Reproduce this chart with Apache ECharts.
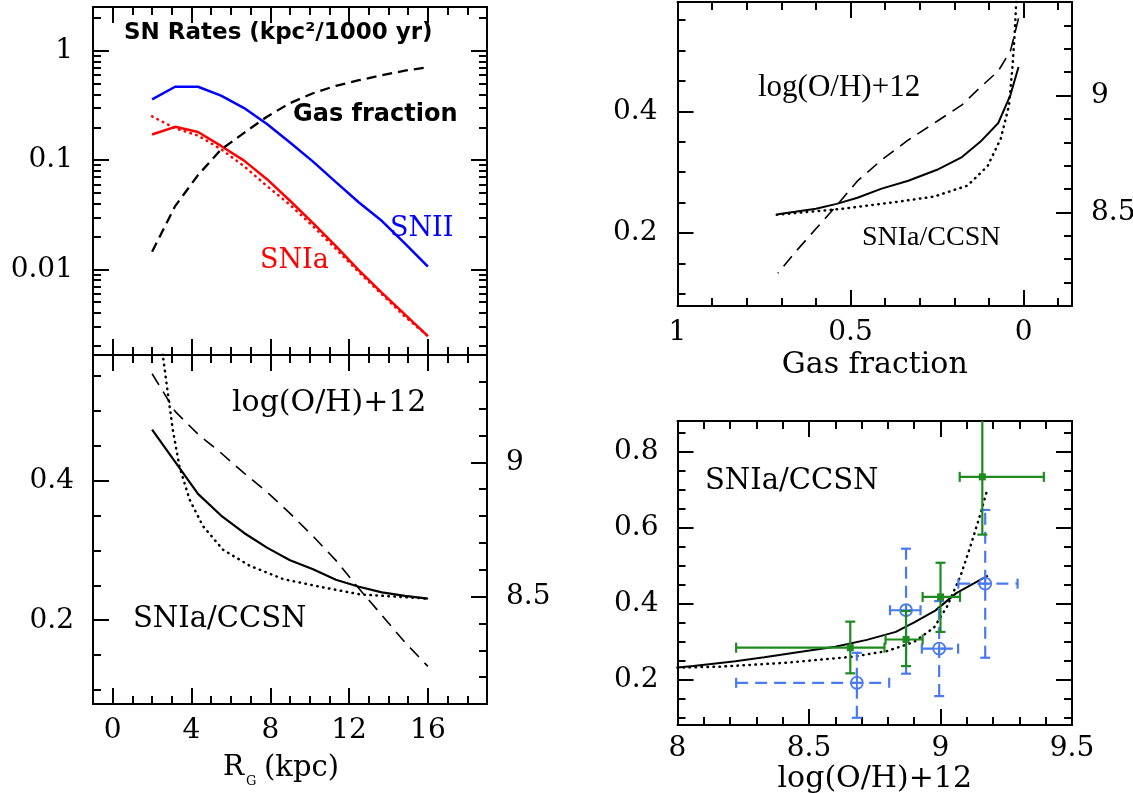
<!DOCTYPE html>
<html><head><meta charset="utf-8">
<script src="https://cdn.jsdelivr.net/npm/echarts@6/dist/echarts.min.js"></script>
<style>html,body{margin:0;padding:0;background:#fff}#c{width:1133px;height:793px}</style>
</head><body><div id="c"></div>
<script>
// ---------------- data ----------------
// model grid (galactocentric radius, kpc)
const R = [2, 3.17, 4.33, 5.5, 6.67, 7.83, 9, 10.17, 11.33, 12.5, 13.67, 14.83, 16];
// top-left panel: SN rates (kpc^-2 / 1000 yr) and gas fraction
const rateSNII = [0.36, 0.47, 0.47, 0.39, 0.30, 0.214, 0.145, 0.097, 0.063, 0.041, 0.0277, 0.0173, 0.0106];
const rateSNIa = [0.172, 0.202, 0.181, 0.135, 0.099, 0.067, 0.0425, 0.0265, 0.0163, 0.0098, 0.0061, 0.00387, 0.00245];
const rateSNIaDot = [0.252, 0.196, 0.168, 0.126, 0.088, 0.058, 0.039, 0.0248, 0.0154, 0.0094, 0.0059, 0.0037, 0.00245];
const gasFraction = [0.0145, 0.038, 0.073, 0.125, 0.178, 0.25, 0.333, 0.41, 0.48, 0.54, 0.60, 0.66, 0.71];
// SNIa/CCSN ratio (solid) and log(O/H)+12 (dashed)
const ratioSolid = [0.473, 0.427, 0.381, 0.350, 0.325, 0.304, 0.286, 0.273, 0.258, 0.248, 0.240, 0.235, 0.231];
const logOH = [9.33, 9.19, 9.105, 9.035, 8.96, 8.89, 8.81, 8.725, 8.635, 8.53, 8.43, 8.33, 8.24];
// bottom-left dotted ratio vs R
const rDot = [2.45, 2.8, 3.05, 3.39, 3.9, 4.58, 5.6, 6.96, 8.65, 10.69, 12.55, 14.25, 16];
const ratioDotR = [0.60, 0.525, 0.473, 0.420, 0.373, 0.335, 0.301, 0.278, 0.259, 0.247, 0.237, 0.234, 0.231];
// top-right dotted ratio vs gas fraction
const gasDot = [0.713, 0.53, 0.356, 0.259, 0.162, 0.104, 0.066, 0.042, 0.032, 0.025, 0.019];
const ratioDotGas = [0.230, 0.2395, 0.252, 0.260, 0.278, 0.310, 0.355, 0.410, 0.474, 0.534, 0.61];
// bottom-right: model vs log(O/H)+12
const ohModel = [9.18, 9.06, 8.98, 8.90, 8.83, 8.72, 8.60, 8.47, 8.33, 8.22, 8.12, 8.06, 8.0];
const ohDot = [8.0, 8.163, 8.416, 8.67, 8.797, 8.898, 8.975, 9.026, 9.076, 9.114, 9.146, 9.178];
const ratioDotOH = [0.231, 0.2335, 0.244, 0.260, 0.2746, 0.298, 0.336, 0.393, 0.472, 0.551, 0.622, 0.70];
// observations (green, solid error bars)
const obsG_x = [8.657, 8.869, 9.0, 9.159];
const obsG_y = [0.2835, 0.305, 0.417, 0.733];
const obsG_xLo = [8.223, 8.791, 8.932, 9.073];
const obsG_xHi = [8.787, 8.932, 9.074, 9.393];
const obsG_yLo = [0.216, 0.235, 0.325, 0.581];
const obsG_yHi = [0.352, 0.38, 0.507, 0.95];
// observations (blue, dashed error bars)
const obsB_x = [8.682, 8.869, 8.995, 9.17];
const obsB_y = [0.191, 0.382, 0.281, 0.452];
const obsB_xLo = [8.223, 8.808, 8.929, 9.068];
const obsB_xHi = [8.805, 8.924, 9.067, 9.293];
const obsB_yLo = [0.099, 0.215, 0.156, 0.257];
const obsB_yHi = [0.27, 0.544, 0.406, 0.646];

// ---------------- tick values ----------------
const rMinorTicks = [-1,0,1,2,3,4,5,6,7,8,9,10,11,12,13,14,15,16,17,18,19];
const rMajorTicks = [0,4,8,12,16];
const rateMajorTicks = [0.01, 0.1, 1];
const rateMinorTicks = [0.002,0.003,0.004,0.005,0.006,0.007,0.008,0.009,0.02,0.03,0.04,0.05,0.06,0.07,0.08,0.09,0.2,0.3,0.4,0.5,0.6,0.7,0.8,0.9,2];
const ratioMinorTicks = [0.1,0.15,0.2,0.25,0.3,0.35,0.4,0.45,0.5,0.55];
const ratioMajorTicks = [0.2, 0.4];
const ohMinorTicks = [8.2,8.3,8.4,8.5,8.6,8.7,8.8,8.9,9.0,9.1,9.2,9.3];
const ohMajorTicks = [8.5, 9];
const gasMinorTicks = [-0.1,0,0.1,0.2,0.3,0.4,0.5,0.6,0.7,0.8,0.9,1];
const gasMajorTicks = [0, 0.5, 1];
const ohXMinorTicks = [8.1,8.2,8.3,8.4,8.5,8.6,8.7,8.8,8.9,9.0,9.1,9.2,9.3,9.4];
const ohXMajorTicks = [8.5, 9];
const ohXLabels = [8, 8.5, 9, 9.5];
const ratioDMinorTicks = [0.1,0.15,0.2,0.25,0.3,0.35,0.4,0.45,0.5,0.55,0.6,0.65,0.7,0.75,0.8,0.85];
const ratioDMajorTicks = [0.2,0.4,0.6,0.8];

// ---------------- helpers ----------------
const SERIF = 'DejaVu Serif';
const DOT = [0.5, 5.5];
function axisPair(grid, pos, type, min, max, minor, major, labels, opt) {
  opt = opt || {};
  const base = {type: type, gridIndex: grid, position: pos, min: min, max: max,
    inverse: !!opt.inverse, splitLine: {show: false}, silent: true};
  if (type === 'log') base.logBase = 10;
  const a1 = Object.assign({}, base, {
    axisLine: {show: true, onZero: false, lineStyle: {color: '#000', width: 2}},
    axisTick: {show: true, inside: true, length: 8, customValues: minor, lineStyle: {color: '#000', width: 2}},
    axisLabel: {show: false}
  });
  const a2 = Object.assign({}, base, {
    axisLine: {show: false, onZero: false},
    axisTick: {show: true, inside: true, length: 16, customValues: major, lineStyle: {color: '#000', width: 2}},
    axisLabel: labels ? {show: true, customValues: labels, margin: opt.margin, color: '#000',
      fontFamily: SERIF, fontSize: 28, showMinLabel: true, showMaxLabel: true,
      formatter: function (v) { return String(v); }} : {show: false}
  });
  if (opt.name) {
    a2.name = opt.name; a2.nameLocation = 'middle'; a2.nameGap = opt.nameGap;
    a2.nameTextStyle = {color: '#000', fontFamily: SERIF, fontSize: 30};
  }
  return [a1, a2];
}
const xAxis = [], yAxis = [];
// grid 0: top-left (rates)
xAxis.push(...axisPair(0, 'bottom', 'value', -1, 19, rMinorTicks, rMajorTicks, null));
xAxis.push(...axisPair(0, 'top', 'value', -1, 19, rMinorTicks, rMajorTicks, null));
yAxis.push(...axisPair(0, 'left', 'log', 0.001644, 2.527, rateMinorTicks, rateMajorTicks, rateMajorTicks, {margin: 20}));
yAxis.push(...axisPair(0, 'right', 'log', 0.001644, 2.527, rateMinorTicks, rateMajorTicks, null));
// grid 1: bottom-left (vs R)
xAxis.push(...axisPair(1, 'bottom', 'value', -1, 19, rMinorTicks, rMajorTicks, rMajorTicks, {margin: 13}));
xAxis.push(...axisPair(1, 'top', 'value', -1, 19, rMinorTicks, rMajorTicks, null));
yAxis.push(...axisPair(1, 'left', 'value', 0.08, 0.58, ratioMinorTicks, ratioMajorTicks, ratioMajorTicks, {margin: 19}));
yAxis.push(...axisPair(1, 'right', 'value', 8.1, 9.4, ohMinorTicks, ohMajorTicks, ohMajorTicks, {margin: 19}));
// grid 2: top-right (vs gas fraction)
xAxis.push(...axisPair(2, 'bottom', 'value', -0.14, 1, gasMinorTicks, gasMajorTicks, gasMajorTicks, {margin: 13, inverse: true, name: 'Gas fraction', nameGap: 44}));
xAxis.push(...axisPair(2, 'top', 'value', -0.14, 1, gasMinorTicks, gasMajorTicks, null, {inverse: true}));
yAxis.push(...axisPair(2, 'left', 'value', 0.08, 0.58, ratioMinorTicks, ratioMajorTicks, ratioMajorTicks, {margin: 20}));
yAxis.push(...axisPair(2, 'right', 'value', 8.1, 9.4, ohMinorTicks, ohMajorTicks, ohMajorTicks, {margin: 19}));
// grid 3: bottom-right (vs O/H)
xAxis.push(...axisPair(3, 'bottom', 'value', 8, 9.5, ohXMinorTicks, ohXMajorTicks, ohXLabels, {margin: 10, name: 'log(O/H)+12', nameGap: 32}));
xAxis.push(...axisPair(3, 'top', 'value', 8, 9.5, ohXMinorTicks, ohXMajorTicks, null));
yAxis.push(...axisPair(3, 'left', 'value', 0.08, 0.88, ratioDMinorTicks, ratioDMajorTicks, ratioDMajorTicks, {margin: 19}));
yAxis.push(...axisPair(3, 'right', 'value', 0.08, 0.88, ratioDMinorTicks, ratioDMajorTicks, null));

const series = [];
function addLine(g, yIdx, xs, ys, color, type, width) {
  series.push({type: 'line', xAxisIndex: g * 4, yAxisIndex: yIdx,
    data: xs.map(function (x, i) { return [x, ys[i]]; }),
    showSymbol: false, symbol: 'none', clip: true, silent: true, z: 3,
    lineStyle: {color: color, width: width, type: type, cap: type === DOT ? 'round' : 'butt'}});
}
// top-left
addLine(0, 0, R, rateSNII, '#0000ff', 'solid', 2.5);
addLine(0, 0, R, rateSNIa, '#ff0000', 'solid', 2.5);
addLine(0, 0, R, rateSNIaDot, '#ff0000', DOT, 2.6);
addLine(0, 0, R, gasFraction, '#000', [10, 6], 2.3);
// bottom-left
addLine(1, 4, R, ratioSolid, '#000', 'solid', 2.2);
addLine(1, 4, rDot, ratioDotR, '#000', DOT, 2.5);
addLine(1, 6, R, logOH, '#000', [13, 8], 1.6);
// top-right
addLine(2, 8, gasFraction, ratioSolid, '#000', 'solid', 2);
addLine(2, 8, gasDot, ratioDotGas, '#000', DOT, 2.5);
addLine(2, 10, gasFraction, logOH, '#000', [13, 8], 1.6);
// bottom-right
addLine(3, 12, ohModel, ratioSolid, '#000', 'solid', 2);
addLine(3, 12, ohDot, ratioDotOH, '#000', DOT, 2.5);

function errRender(color, dashed, marker) {
  return function (params, api) {
    const x = api.value(0), y = api.value(1);
    const c = api.coord([x, y]);
    const xl = api.coord([api.value(2), y])[0], xh = api.coord([api.value(3), y])[0];
    const yl = api.coord([x, api.value(4)])[1], yh = api.coord([x, api.value(5)])[1];
    const ls = {stroke: color, lineWidth: 2.2, lineDash: dashed ? [12, 7] : null, fill: null};
    const cs = {stroke: color, lineWidth: 2.2, fill: null};
    const cap = 5;
    const ch = [
      {type: 'line', shape: {x1: xl, y1: c[1], x2: xh, y2: c[1]}, style: ls},
      {type: 'line', shape: {x1: c[0], y1: yl, x2: c[0], y2: yh}, style: ls},
      {type: 'line', shape: {x1: xl, y1: c[1] - cap, x2: xl, y2: c[1] + cap}, style: cs},
      {type: 'line', shape: {x1: xh, y1: c[1] - cap, x2: xh, y2: c[1] + cap}, style: cs},
      {type: 'line', shape: {x1: c[0] - cap, y1: yl, x2: c[0] + cap, y2: yl}, style: cs},
      {type: 'line', shape: {x1: c[0] - cap, y1: yh, x2: c[0] + cap, y2: yh}, style: cs}
    ];
    if (marker === 'square') {
      ch.push({type: 'rect', shape: {x: c[0] - 3.5, y: c[1] - 3.5, width: 7, height: 7}, style: {fill: color}});
    } else {
      ch.push({type: 'circle', shape: {cx: c[0], cy: c[1], r: 6}, style: {stroke: color, lineWidth: 1.8, fill: 'rgba(0,0,0,0)'}});
      ch.push({type: 'line', shape: {x1: c[0] - 6, y1: c[1], x2: c[0] + 6, y2: c[1]}, style: {stroke: color, lineWidth: 1.8}});
      ch.push({type: 'line', shape: {x1: c[0], y1: c[1] - 6, x2: c[0], y2: c[1] + 6}, style: {stroke: color, lineWidth: 1.8}});
    }
    return {type: 'group', children: ch};
  };
}
function rows(xs, ys, xl, xh, yl, yh) {
  return xs.map(function (x, i) { return [x, ys[i], xl[i], xh[i], yl[i], yh[i]]; });
}
series.push({type: 'custom', xAxisIndex: 12, yAxisIndex: 12, clip: true, silent: true, z: 4,
  data: rows(obsB_x, obsB_y, obsB_xLo, obsB_xHi, obsB_yLo, obsB_yHi),
  renderItem: errRender('#4a7af0', true, 'circle')});
series.push({type: 'custom', xAxisIndex: 12, yAxisIndex: 12, clip: true, silent: true, z: 5,
  data: rows(obsG_x, obsG_y, obsG_xLo, obsG_xHi, obsG_yLo, obsG_yHi),
  renderItem: errRender('#1f8a1f', false, 'square')});

function txt(t, x, y, size, family, color, weight) {
  return {type: 'text', x: x, y: y, silent: true, z: 100,
    style: {text: t, fill: color || '#000', fontSize: size, fontFamily: family,
      fontWeight: weight || 'normal', align: 'left', verticalAlign: 'middle'}};
}
const graphic = [
  txt('SN Rates (kpc\u00b2/1000 yr)', 124, 33, 23, 'DejaVu Sans', '#000', 'bold'),
  txt('Gas fraction', 293, 114.5, 24, 'DejaVu Sans', '#000', 'bold'),
  txt('SNII', 390, 228.6, 27, SERIF, '#0000ff'),
  txt('SNIa', 260, 261.2, 27, SERIF, '#ff0000'),
  txt('log(O/H)+12', 232, 403, 30, SERIF),
  txt('SNIa/CCSN', 133, 619.6, 29, SERIF),
  txt('R', 223, 768, 28, SERIF),
  txt('G', 246, 782, 13, SERIF),
  txt('(kpc)', 264, 768, 29, SERIF),
  txt('log(O/H)+12', 758, 88, 31, 'Liberation Serif'),
  txt('SNIa/CCSN', 862, 238, 28, 'Liberation Serif'),
  txt('SNIa/CCSN', 705, 481.3, 29, SERIF)
];

const chart = echarts.init(document.getElementById('c'), null, {renderer: 'canvas'});
chart.setOption({
  animation: false,
  backgroundColor: '#fff',
  grid: [
    {left: 93, top: 7, width: 394, height: 348, containLabel: false, outerBoundsMode: 'none'},
    {left: 93, top: 355, width: 394, height: 349, containLabel: false, outerBoundsMode: 'none'},
    {left: 677.5, top: 2, width: 394.5, height: 304, containLabel: false, outerBoundsMode: 'none'},
    {left: 677.5, top: 421, width: 394.5, height: 304, containLabel: false, outerBoundsMode: 'none'}
  ],
  xAxis: xAxis,
  yAxis: yAxis,
  series: series,
  graphic: graphic
});
</script></body></html>
